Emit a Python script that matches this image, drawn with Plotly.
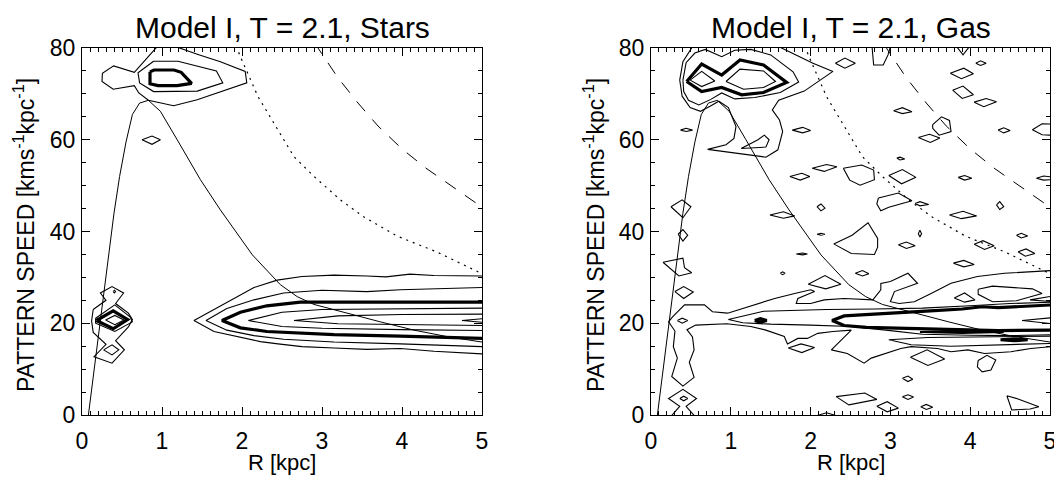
import plotly.graph_objects as go

# ---------------- resonance curves (R [kpc], pattern speed) ----------------
ILR_R = [0.08, 0.16, 0.23, 0.31, 0.40, 0.47, 0.55, 0.63, 0.72, 0.83, 0.98, 1.19, 1.48, 1.73,
         2.13, 2.48, 2.69, 2.90, 3.31, 3.73, 4.15, 4.56, 5.00]
ILR_V = [0.0, 11.0, 20.7, 32.5, 44.0, 52.0, 59.5, 65.5, 68.0, 68.6, 66.2, 60.0, 51.3, 44.7,
         34.9, 28.4, 25.8, 24.1, 22.2, 20.3, 18.5, 17.1, 15.9]
CR_R = [1.93, 1.97, 2.20, 2.45, 2.65, 2.90, 3.23, 3.52, 3.94, 4.44, 4.90, 5.00]
CR_V = [80.5, 78.5, 69.4, 62.2, 56.3, 52.0, 46.9, 43.2, 39.0, 35.5, 31.5, 30.8]
OLR_R = [2.90, 2.95, 3.20, 3.45, 3.70, 4.00, 4.30, 4.65, 5.00]
OLR_V = [81.0, 80.0, 73.5, 68.0, 63.0, 58.0, 53.8, 49.5, 45.3]

# ---------------- stars panel contours ----------------
S_TOP_OUTER = [(0.94, 80.3), (0.654, 74.7), (0.395, 76.1), (0.255, 74.5), (0.25, 72.7), (0.39, 71.0),
               (0.654, 71.8), (0.71, 70.2), (0.83, 68.6), (1.145, 67.4), (1.44, 68.7), (1.77, 70.6),
               (2.06, 72.4), (2.04, 74.9), (1.73, 77.0), (1.45, 78.6), (1.17, 80.3)]
S_TOP_MID = [(0.895, 77.1), (0.70, 74.6), (0.72, 72.4), (0.895, 70.5), (1.44, 70.6), (1.76, 72.4),
             (1.68, 75.0), (1.2, 77.1), (0.895, 77.1)]
S_TOP_THICK = [(0.85, 74.8), (0.85, 72.2), (0.95, 71.8), (1.19, 71.8), (1.37, 72.3), (1.24, 74.7),
               (1.15, 75.2), (0.9, 75.2), (0.85, 74.8)]
S_DIAMOND_60 = [(0.75, 60.0), (0.875, 60.8), (0.98, 60.0), (0.875, 59.0), (0.75, 60.0)]
S_BLOB_OUTER = [(0.14, 23.0), (0.30, 25.0), (0.23, 26.6), (0.375, 28.0), (0.52, 26.6), (0.42, 24.3),
                (0.58, 22.2), (0.63, 20.8), (0.58, 19.2), (0.42, 16.2), (0.53, 14.2), (0.375, 11.3),
                (0.15, 12.7), (0.30, 15.4), (0.14, 18.0), (0.12, 20.5), (0.14, 23.0)]
S_BLOB_2 = [(0.17, 21.1), (0.41, 24.0), (0.60, 21.4), (0.63, 20.3), (0.41, 18.2), (0.17, 20.0), (0.17, 21.1)]
S_BLOB_THICK = [(0.18, 20.6), (0.39, 22.7), (0.57, 20.8), (0.39, 18.8), (0.18, 20.6)]
S_BLOB_IN = [(0.295, 20.7), (0.41, 21.7), (0.525, 20.7), (0.41, 19.7), (0.295, 20.7)]
S_BLOB_LOW = [(0.27, 14.2), (0.375, 15.3), (0.46, 14.2), (0.375, 13.1), (0.27, 14.2)]
S_BLOB_DOT = [(0.39, 26.9), (0.405, 27.2), (0.42, 26.9), (0.405, 26.6), (0.39, 26.9)]
S_BAND_1 = [(5.02, 30.3), (4.4, 30.4), (4.1, 30.7), (3.8, 30.1), (3.56, 30.3), (3.15, 30.5), (2.75, 30.2),
            (2.44, 29.4), (2.15, 27.8), (1.9, 25.4), (1.65, 22.9), (1.40, 20.6), (1.65, 18.2), (1.94, 17.1),
            (2.23, 16.0), (2.45, 15.5), (2.75, 14.9), (3.15, 14.6), (3.56, 14.3), (3.98, 14.5), (4.4, 13.9),
            (5.02, 13.3)]
S_BAND_2 = [(5.02, 27.8), (4.4, 27.6), (3.98, 27.3), (3.56, 26.9), (3.0, 27.2), (2.52, 26.6), (2.15, 25.1),
            (1.81, 23.2), (1.55, 20.6), (1.81, 18.5), (2.15, 17.3), (2.52, 16.5), (3.15, 15.9), (3.98, 15.5),
            (4.5, 15.2), (5.02, 14.9)]
S_BAND_THICK = [(5.02, 24.6), (4.0, 24.6), (3.15, 24.7), (2.73, 24.6), (2.31, 23.8), (1.98, 22.4), (1.75, 20.6),
                (1.98, 19.0), (2.31, 18.2), (2.73, 17.8), (3.15, 17.5), (3.98, 17.2), (4.4, 17.0), (5.02, 16.7)]
S_BAND_4 = [(5.02, 23.3), (4.0, 23.2), (3.0, 23.0), (2.5, 22.4), (2.08, 20.6), (2.5, 19.3), (3.0, 18.9),
            (4.0, 18.6), (5.02, 18.4)]
S_BAND_5 = [(5.02, 22.0), (4.0, 21.9), (3.2, 21.6), (2.65, 20.6), (3.2, 19.9), (4.0, 19.7), (5.02, 19.5)]
S_BAND_6 = [(5.02, 21.0), (4.75, 20.6), (5.02, 20.2)]

STARS_THIN = [S_TOP_OUTER, S_TOP_MID, S_DIAMOND_60, S_BLOB_OUTER, S_BLOB_2, S_BLOB_IN, S_BLOB_LOW,
              S_BLOB_DOT, S_BAND_1, S_BAND_2, S_BAND_4, S_BAND_5, S_BAND_6]
STARS_THICK = [S_TOP_THICK, S_BLOB_THICK, S_BAND_THICK]

# ---------------- gas panel contours ----------------
G_TOP_THICK = [(0.447, 72.7), (0.635, 76.5), (0.886, 74.1), (1.115, 77.4), (1.41, 76.3), (1.70, 72.5),
               (1.41, 70.3), (1.136, 69.8), (0.886, 71.4), (0.635, 70.5), (0.447, 72.7)]
G_TOP_IN_L = [(0.49, 73.0), (0.635, 74.9), (0.80, 72.8), (0.635, 71.6), (0.49, 73.0)]
G_TOP_IN_R = [(0.94, 72.7), (1.115, 75.4), (1.41, 75.0), (1.56, 72.7), (1.41, 71.4), (1.16, 71.0), (0.94, 72.7)]
G_TOP_2 = [(0.40, 73.0), (0.44, 76.8), (0.55, 78.9), (0.68, 79.7), (0.886, 78.1), (1.05, 79.5), (1.25, 79.7),
           (1.50, 78.5), (1.78, 74.8), (1.85, 72.6), (1.62, 70.3), (1.30, 69.2), (1.05, 68.9), (0.886, 70.2),
           (0.75, 68.8), (0.60, 67.6), (0.47, 68.6), (0.41, 70.5), (0.40, 73.0)]
G_TOP_3 = [(0.52, 80.3), (0.40, 77.0), (0.36, 73.0), (0.39, 69.5), (0.49, 67.0), (0.62, 66.2), (0.74, 67.3),
           (0.85, 68.4), (0.97, 67.0), (1.03, 64.3), (1.065, 62.9), (1.04, 60.3), (0.94, 58.9), (0.71, 57.9),
           (1.44, 56.2), (1.59, 57.8), (1.65, 61.8), (1.61, 64.3), (1.52, 66.5), (1.60, 68.6), (1.92, 70.6),
           (2.28, 74.9), (2.03, 76.7), (1.60, 80.3)]
G_TOP_LOOP = [(1.13, 58.1), (1.34, 60.0), (1.42, 61.0), (1.48, 60.0), (1.44, 58.4), (1.13, 58.1)]
G_U_TOP = [(2.77, 80.3), (2.79, 76.3), (2.91, 76.3), (2.97, 78.5), (3.0, 80.3)]
G_V_TOP = [(3.83, 80.3), (3.91, 78.5), (3.99, 80.3)]
G_DIAMONDS = [
    [(2.31, 76.7), (2.43, 77.8), (2.56, 76.7), (2.43, 75.6), (2.31, 76.7)],
    [(4.07, 76.7), (4.13, 77.2), (4.20, 76.7), (4.13, 76.2), (4.07, 76.7)],
    [(3.75, 74.5), (3.92, 75.6), (4.04, 74.4), (3.89, 73.3), (3.75, 74.5)],
    [(3.78, 70.8), (3.91, 71.7), (4.04, 69.8), (3.90, 69.0), (3.78, 70.8)],
    [(4.05, 68.2), (4.20, 69.0), (4.33, 68.3), (4.17, 67.2), (4.05, 68.2)],
    [(3.04, 66.3), (3.15, 67.0), (3.27, 66.1), (3.15, 65.7), (3.04, 66.3)],
    [(3.53, 63.3), (3.64, 65.0), (3.74, 64.2), (3.76, 61.8), (3.61, 61.0), (3.53, 62.5), (3.53, 63.3)],
    [(4.35, 62.1), (4.42, 62.6), (4.50, 62.0), (4.42, 61.5), (4.35, 62.1)],
    [(5.02, 63.4), (4.90, 63.5), (4.78, 62.2), (4.90, 61.1), (5.02, 61.0)],
    [(3.08, 56.0), (3.12, 56.2), (3.18, 55.8), (3.12, 55.6), (3.08, 56.0)],
    [(0.37, 62.1), (0.44, 62.5), (0.52, 62.1), (0.44, 61.8), (0.37, 62.1)],
    [(1.77, 62.1), (1.90, 62.7), (2.00, 62.0), (1.90, 61.5), (1.77, 62.1)],
    [(3.35, 60.5), (3.49, 61.2), (3.62, 60.4), (3.50, 59.4), (3.35, 60.5)],
    [(2.02, 53.8), (2.20, 54.6), (2.33, 54.1), (2.17, 53.1), (2.02, 53.8)],
    [(1.74, 52.0), (1.89, 52.7), (1.99, 52.0), (1.87, 51.2), (1.74, 52.0)],
    [(2.41, 53.8), (2.64, 54.5), (2.79, 53.4), (2.80, 51.3), (2.62, 50.1), (2.49, 51.2), (2.41, 53.8)],
    [(2.98, 52.2), (3.15, 53.5), (3.32, 51.8), (3.14, 50.4), (2.98, 52.2)],
    [(3.85, 51.8), (3.93, 52.2), (4.02, 51.6), (3.93, 51.2), (3.85, 51.8)],
    [(5.02, 51.9), (4.92, 52.1), (4.83, 51.6), (4.92, 51.2), (5.02, 51.3)],
    [(2.85, 47.3), (3.10, 48.4), (3.27, 46.7), (2.98, 45.3), (2.88, 44.5), (2.83, 46.0), (2.85, 47.3)],
    [(3.31, 46.1), (3.37, 46.5), (3.48, 45.9), (3.37, 45.6), (3.31, 46.1)],
    [(2.08, 45.4), (2.13, 46.0), (2.18, 45.1), (2.13, 44.5), (2.08, 45.4)],
    [(3.74, 43.6), (3.91, 44.4), (4.08, 43.4), (3.89, 42.8), (3.74, 43.6)],
    [(4.33, 45.8), (4.37, 46.5), (4.42, 45.4), (4.37, 44.8), (4.33, 45.8)],
    [(1.49, 43.6), (1.66, 44.3), (1.80, 43.4), (1.66, 42.9), (1.49, 43.6)],
    [(2.08, 39.4), (2.13, 39.6), (2.18, 39.4), (2.13, 39.2), (2.08, 39.4)],
    [(3.37, 40.3), (3.39, 39.5), (3.37, 38.8), (3.35, 39.5), (3.37, 40.3)],
    [(2.29, 37.3), (2.52, 39.2), (2.72, 41.9), (2.84, 38.5), (2.84, 36.6), (2.80, 35.0), (2.51, 35.2), (2.29, 37.3)],
    [(3.10, 37.1), (3.20, 37.7), (3.31, 36.9), (3.20, 36.3), (3.10, 37.1)],
    [(4.05, 37.2), (4.16, 38.0), (4.30, 36.9), (4.18, 36.1), (4.05, 37.2)],
    [(4.58, 39.2), (4.64, 39.6), (4.72, 39.0), (4.64, 38.6), (4.58, 39.2)],
    [(0.25, 45.4), (0.39, 46.9), (0.50, 45.4), (0.40, 43.0), (0.25, 45.4)],
    [(0.34, 39.4), (0.40, 40.4), (0.46, 39.2), (0.40, 37.9), (0.34, 39.4)],
    [(0.15, 33.3), (0.40, 34.2), (0.42, 32.1), (0.51, 31.0), (0.35, 30.3), (0.15, 33.3)],
    [(0.30, 26.9), (0.41, 28.0), (0.53, 26.8), (0.41, 25.4), (0.30, 26.9)],
    [(0.33, 20.6), (0.39, 21.1), (0.46, 20.6), (0.39, 20.0), (0.33, 20.6)],
    [(1.82, 35.1), (1.90, 35.3), (1.96, 35.1), (1.90, 34.9), (1.82, 35.1)],
    [(1.62, 30.9), (1.65, 31.2), (1.68, 30.9), (1.65, 30.6), (1.62, 30.9)],
    [(1.97, 28.5), (2.18, 30.4), (2.38, 28.5), (2.19, 27.5), (1.97, 28.5)],
    [(2.56, 30.9), (2.65, 31.5), (2.73, 30.8), (2.65, 30.3), (2.56, 30.9)],
    [(3.79, 33.1), (3.92, 33.7), (4.05, 32.8), (3.92, 32.3), (3.79, 33.1)],
    [(4.60, 35.6), (4.70, 36.2), (4.81, 35.2), (4.69, 34.6), (4.60, 35.6)],
    [(4.10, 27.4), (4.28, 28.1), (4.78, 27.5), (4.90, 26.5), (4.58, 24.9), (4.28, 24.7), (4.10, 26.3), (4.10, 27.4)],
    [(3.80, 25.5), (3.93, 26.6), (4.06, 25.1), (3.93, 24.6), (3.80, 25.5)],
    [(5.02, 25.9), (4.75, 25.1), (5.02, 24.7)],
    [(1.72, 14.6), (1.88, 15.5), (2.05, 14.7), (1.89, 13.6), (1.72, 14.6)],
    [(3.25, 12.6), (3.46, 14.2), (3.68, 12.2), (3.47, 10.8), (3.25, 12.6)],
    [(4.10, 11.9), (4.21, 13.0), (4.32, 12.0), (4.26, 9.8), (4.15, 9.4), (4.09, 10.5), (4.10, 11.9)],
    [(3.15, 8.0), (3.22, 8.5), (3.28, 7.8), (3.22, 7.3), (3.15, 8.0)],
    [(2.32, 4.0), (2.68, 4.8), (2.83, 3.4), (2.48, 2.2), (2.32, 4.0)],
    [(2.83, 1.9), (2.96, 2.9), (3.10, 1.5), (2.96, 0.7), (2.83, 1.9)],
    [(3.15, 4.0), (3.22, 4.4), (3.29, 3.9), (3.22, 3.4), (3.15, 4.0)],
    [(3.38, 1.8), (3.45, 2.3), (3.53, 1.7), (3.45, 1.2), (3.38, 1.8)],
    [(4.46, 4.2), (4.60, 3.5), (4.86, 1.8), (4.75, 1.3), (4.52, 1.1), (4.46, 4.2)],
    [(2.05, -0.3), (2.20, 0.5), (2.35, -0.3)],
    [(0.25, -0.3), (0.36, 1.9), (0.22, 3.6), (0.40, 5.6), (0.57, 3.6), (0.44, 1.9), (0.55, -0.3)],
    [(0.36, 3.6), (0.41, 4.1), (0.46, 3.6), (0.41, 3.1), (0.36, 3.6)],
]
G_BAND_1 = [(5.02, 14.9), (4.76, 14.5), (4.51, 13.8), (4.18, 13.4), (3.97, 14.2), (3.76, 13.8), (3.59, 14.5),
            (3.26, 14.9), (3.13, 14.5), (2.92, 13.4), (2.76, 12.4), (2.67, 11.3), (2.46, 13.4), (2.26, 14.2),
            (2.51, 18.5), (2.28, 18.2), (2.09, 17.8), (1.96, 16.7), (1.84, 16.7), (1.71, 15.5), (1.67, 17.1),
            (1.44, 18.5), (1.25, 19.3), (0.95, 19.9), (0.56, 19.6), (0.45, 18.6), (0.52, 17.0), (0.54, 14.2),
            (0.48, 11.5), (0.54, 8.2), (0.40, 6.3), (0.26, 8.4), (0.33, 12.4), (0.28, 14.9), (0.30, 18.3),
            (0.22, 20.3), (0.27, 21.4), (0.42, 24.0), (0.67, 24.0), (0.77, 22.5), (0.96, 22.2), (1.09, 22.9),
            (1.29, 24.0), (1.55, 25.4), (1.80, 26.5), (2.00, 27.3), (2.05, 26.9), (1.84, 25.4), (1.82, 24.3),
            (2.00, 24.3), (2.17, 25.1), (2.42, 25.4), (2.78, 25.1), (2.88, 27.3), (2.88, 28.7), (3.00, 29.1),
            (3.22, 30.9), (3.34, 28.7), (3.05, 26.9), (3.00, 24.7), (3.11, 24.3), (3.30, 24.7), (3.51, 26.5),
            (3.76, 28.7), (4.09, 30.2), (4.43, 30.9), (5.02, 31.5)]
G_BAND_2 = [(5.02, 24.6), (4.5, 24.3), (4.0, 23.8), (3.4, 23.3), (2.8, 23.1), (2.2, 23.0), (1.41, 22.6),
            (0.97, 20.8), (1.15, 20.1), (1.5, 19.8), (2.0, 19.6), (2.5, 19.3), (3.0, 18.4), (3.4, 17.6),
            (4.0, 17.4), (4.5, 17.3), (5.02, 17.5)]
G_BAND_THICK = [(5.02, 24.0), (4.55, 23.7), (4.35, 23.4), (4.15, 23.6), (3.9, 23.1), (3.5, 22.7), (3.1, 22.3),
                (2.7, 22.0), (2.42, 21.6), (2.27, 20.6), (2.42, 19.5), (2.7, 19.1), (3.1, 18.9), (3.5, 18.7),
                (3.9, 18.6), (4.35, 18.4), (5.02, 18.5)]
G_BAND_INNER = [(5.02, 21.2), (4.65, 20.6), (5.02, 19.9)]
G_BAND_LOOP = [(5.02, 17.2), (4.18, 17.0), (3.47, 16.9), (2.98, 16.4), (3.26, 15.3), (3.76, 15.0),
               (4.39, 15.3), (5.02, 15.6)]
G_MED_1 = [(3.37, 18.1), (3.9, 18.3), (4.42, 18.1), (3.9, 17.85), (3.37, 18.1)]
G_THICK_BAR = [(4.38, 16.4), (4.55, 16.6), (4.72, 16.4), (4.55, 16.2), (4.38, 16.4)]
G_THICK_DOT = [(1.30, 20.6), (1.37, 21.0), (1.45, 20.6), (1.37, 20.2), (1.30, 20.6)]

GAS_THIN = [G_TOP_IN_L, G_TOP_IN_R, G_TOP_2, G_TOP_3, G_TOP_LOOP, G_U_TOP, G_V_TOP,
            G_BAND_1, G_BAND_2, G_BAND_INNER, G_BAND_LOOP] + G_DIAMONDS
GAS_MED = [G_MED_1]
GAS_THICK = [G_TOP_THICK, G_BAND_THICK, G_THICK_BAR, G_THICK_DOT]

TITLES = ["Model I, T = 2.1, Stars", "Model I, T = 2.1, Gas"]
X_TITLE = "R [kpc]"
Y_TITLE = "PATTERN SPEED [kms<sup>-1</sup>kpc<sup>-1</sup>]"

FONT = "Liberation Sans, Arial, Helvetica, sans-serif"
OFF = 8                      # the page body adds an 8 px margin around the figure
W, H = 1062 - OFF, 477 - OFF


def px_x(p):
    return (p - OFF) / W


def px_y(p):
    return 1 - (p - OFF) / H


def join(shapes):
    xs, ys = [], []
    for s in shapes:
        for x, y in s:
            xs.append(x)
            ys.append(y)
        xs.append(None)
        ys.append(None)
    return xs, ys


fig = go.Figure()


def add_panel(xa, ya, thin, med, thick):
    for shapes, w in ((thin, 1.1), (med, 2.0), (thick, 3.2)):
        if not shapes:
            continue
        xs, ys = join(shapes)
        fig.add_trace(go.Scatter(x=xs, y=ys, mode="lines", xaxis=xa, yaxis=ya,
                                 line=dict(color="black", width=w), hoverinfo="skip",
                                 showlegend=False))
    fig.add_trace(go.Scatter(x=ILR_R, y=ILR_V, mode="lines", xaxis=xa, yaxis=ya,
                             line=dict(color="black", width=1), showlegend=False))
    fig.add_trace(go.Scatter(x=CR_R, y=CR_V, mode="lines", xaxis=xa, yaxis=ya,
                             line=dict(color="black", width=1.2, dash="2px,5px"), showlegend=False))
    fig.add_trace(go.Scatter(x=OLR_R, y=OLR_V, mode="lines", xaxis=xa, yaxis=ya,
                             line=dict(color="black", width=1, dash="13px,11px"), showlegend=False))


add_panel("x", "y", STARS_THIN, [], STARS_THICK)
add_panel("x2", "y2", GAS_THIN, GAS_MED, GAS_THICK)

tickfont = dict(size=23, color="black", family=FONT)
xcommon = dict(range=[0, 5], dtick=1, tick0=0, ticks="inside", ticklen=8, tickwidth=1, tickcolor="black",
               showline=True, linecolor="black", linewidth=1, mirror="allticks", showgrid=False,
               zeroline=False, tickfont=tickfont, ticklabelstandoff=5, automargin=False,
               minor=dict(ticks="inside", ticklen=4, dtick=0.1, tickcolor="black", tickwidth=1, showgrid=False))
ycommon = dict(range=[0, 80], dtick=20, tick0=0, ticks="inside", ticklen=8, tickwidth=1, tickcolor="black",
               showline=True, linecolor="black", linewidth=1, mirror="allticks", showgrid=False,
               zeroline=False, tickfont=tickfont, ticklabelstandoff=1, automargin=False,
               minor=dict(ticks="inside", ticklen=4, dtick=5, tickcolor="black", tickwidth=1, showgrid=False))

ydom = [px_y(415), px_y(48)]
fig.update_layout(
    template="none",
    width=W, height=H, margin=dict(l=0, r=0, t=0, b=0, autoexpand=False),
    paper_bgcolor="white", plot_bgcolor="white",
    font=dict(family=FONT, color="black"),
    xaxis=dict(domain=[px_x(82), px_x(482)], anchor="y", **xcommon),
    yaxis=dict(domain=ydom, anchor="x", **ycommon),
    xaxis2=dict(domain=[px_x(651), px_x(1050)], anchor="y2", **xcommon),
    yaxis2=dict(domain=ydom, anchor="x2", **ycommon),
    showlegend=False,
)

ann = []
for title, cx in zip(TITLES, [282, 851]):
    ann.append(dict(text=title, x=px_x(cx), y=px_y(27), xref="paper", yref="paper",
                    xanchor="center", yanchor="middle", showarrow=False,
                    font=dict(size=30, family=FONT, color="black")))
for cx in [282, 851]:
    ann.append(dict(text=X_TITLE, x=px_x(cx), y=px_y(462), xref="paper", yref="paper",
                    xanchor="center", yanchor="middle", showarrow=False,
                    font=dict(size=22, family=FONT, color="black")))
for cx in [24, 594]:
    ann.append(dict(text=Y_TITLE, x=px_x(cx), y=px_y(235), xref="paper", yref="paper",
                    xanchor="center", yanchor="middle", showarrow=False, textangle=-90,
                    font=dict(size=23, family=FONT, color="black")))
fig.update_layout(annotations=ann)

fig.write_html("out.html")
